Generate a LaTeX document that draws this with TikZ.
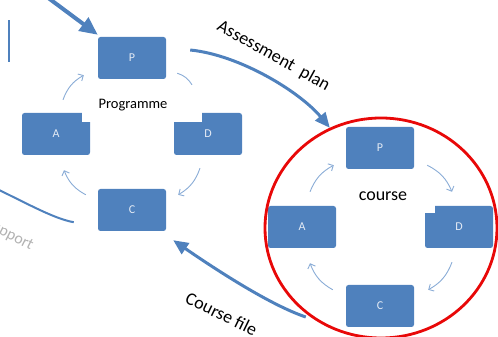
\documentclass[tikz,border=0pt]{standalone}
\usepackage{fontspec}
\setmainfont{Carlito}
\usetikzlibrary{arrows.meta}

\definecolor{boxblue}{RGB}{79,129,189}
\definecolor{cycblue}{RGB}{138,172,214}
\definecolor{lettergray}{RGB}{228,235,245}
\definecolor{ringred}{RGB}{232,8,8}

\tikzset{
	pdca/.style={fill=boxblue, rounded corners=2.5pt, minimum width=68pt, minimum height=42pt, inner sep=0pt, text=lettergray, font=\fontsize{12}{14}\selectfont},
	cyc/.style={draw=cycblue, line width=0.9pt, bend left=20},
	cycarrow/.style={cyc, -{Straight Barb[length=4pt,width=8pt]}},
	flow/.style={draw=boxblue, line width=3pt, -{Triangle[length=15pt,width=13pt]}},
	lbl/.style={font=\fontsize{18}{20}\selectfont},
}

\begin{document}
\begin{tikzpicture}[x=1pt,y=1pt]
		\useasboundingbox (0,0) rectangle (498,337);
		%%%%% START %%%%%
		
		% programme cycle
		\node[pdca] (pP) at (132,279) {P};
		\node[pdca] (pA) at (56,203) {A};
		\node[pdca] (pD) at (208,203) {D};
		\node[pdca] (pC) at (132,127) {C};
		\fill[white] (82,215) rectangle (91,225);
		\fill[white] (174,215) rectangle (202,225);
		\node[font=\fontsize{14.5}{16}\selectfont] (pName) at (133,232) {Programme};
		
		\draw[cycarrow] ([shift={(7,13)}]pA.north) to ([shift={(-14,4)}]pP.south west);
		\draw[cyc] ([shift={(11,6)}]pP.south east) to ([shift={(-16,28)}]pD.north);
		\draw[cycarrow] ([shift={(-8,-13)}]pD.south) to ([shift={(12,-6)}]pC.north east);
		\draw[cycarrow] ([shift={(-12,-6)}]pC.north west) to ([shift={(8,-15)}]pA.south);
		
		% course cycle
		\node[pdca] (cP) at (380,189) {P};
		\node[pdca] (cA) at (302,110) {A};
		\node[pdca] (cD) at (459,110) {D};
		\node[pdca] (cC) at (380,31) {C};
		\fill[white] (424,124) rectangle (435,133);
		\node[lbl] (cName) at (383,140.5) {course};
		
		\draw[cycarrow] ([shift={(8,14)}]cA.north) to ([shift={(-12,4)}]cP.south west);
		\draw[cycarrow] ([shift={(13,4)}]cP.south east) to ([shift={(-7,14)}]cD.north);
		\draw[cycarrow] ([shift={(-7,-14)}]cD.south) to ([shift={(14,-5)}]cC.north east);
		\draw[cycarrow] ([shift={(-13,-5)}]cC.north west) to ([shift={(8,-15)}]cA.south);
		
		% links between the two
		\draw[boxblue, line width=2.5pt] (9,275) -- (9,317);
		\coordinate (planin) at (47,340);
		\draw[flow, line width=4pt, -{Triangle[length=18pt,width=16pt]}] (planin) -- ([shift={(0,2)}]pP.north west);
		
		\draw[flow] ([shift={(24,8)}]pP.east) .. controls (240,282) and (300,245) .. ([shift={(-16,-1)}]cP.north west);
		\node[lbl, rotate=-29, anchor=base west] (planLbl) at (213,309) {Assessment\ \ plan};
		
		\draw[flow] ([shift={(-40,-11)}]cC.west) .. controls (270,32) and (215,68) .. ([shift={(7,-9)}]pC.south east);
		\node[lbl, rotate=-26, anchor=base west] (fileLbl) at (181,36) {Course file};
		
		\coordinate (supportout) at (-5,149);
		\draw[boxblue, line width=2pt] ([shift={(-24,9)}]pC.south west) .. controls (55,118) and (30,132) .. (supportout);
		\node[font=\fontsize{16}{18}\selectfont, text=black!30, rotate=-27, anchor=base west] (supportLbl) at (-19,112) {Support};
		
		\draw[ringred, line width=2.8pt] (381,109) ellipse [x radius=116, y radius=110];
		
		%%%%% END %%%%%
	\end{tikzpicture}
\end{document}
